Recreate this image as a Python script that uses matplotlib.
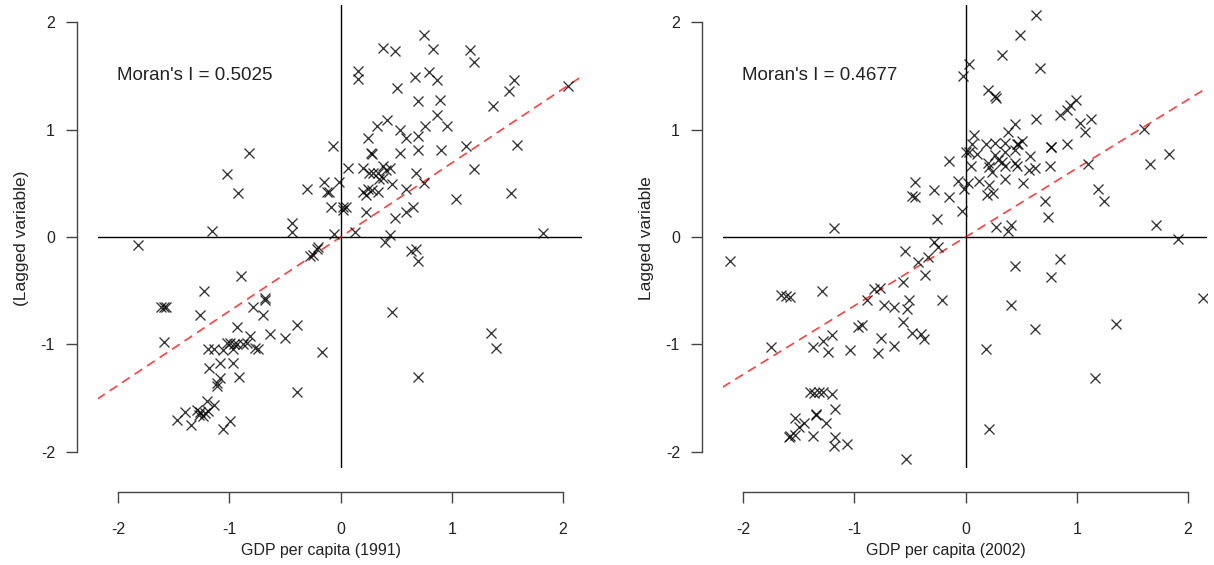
import matplotlib
matplotlib.use("Agg")
import matplotlib.pyplot as plt
import numpy as np

plt.rcParams['font.family'] = ['Liberation Sans', 'DejaVu Sans']
plt.rcParams['axes.unicode_minus'] = False

# GDP per capita 1991 (standardised) and its spatial lag
x91 = [-0.07, -0.82, -1.02, -0.92, -0.30, -0.15, -0.12, -0.10, -0.01, 0.07,
       -0.085, 0.02, 0.05, 0.025, -1.155, -0.44, -0.44, -0.06, 0.75, 0.385,
       0.49, 0.83, 1.16, 1.20, 0.155, 0.155, 0.67, 0.795, 0.87, 1.56,
       1.515, 2.04, 0.51, 0.70, 0.895, 1.37, 0.87, 0.415, 0.325, 0.755,
       0.96, 0.535, 0.585, 0.70, 0.25, 0.27, 0.28, 0.535, 0.70, 0.90,
       1.13, 1.59, 1.20, 0.20, 0.256, 0.295, 0.34, 0.385, 0.405, 0.445,
       0.35, 0.385, 0.68, 0.46, 0.75, 0.205, 0.23, 0.25, 0.28, 0.34,
       0.585, 1.53, 1.035, 0.23, 0.655, 0.585, 0.49, 0.13, 0.44, 1.82,
       0.395, 0.635, 0.68, 0.70, 0.465, 1.35, 1.395, 0.70, -1.82, -0.895,
       -0.245, -0.215, -0.20, -0.274, -1.23, -1.615, -1.585, -1.57, -0.68, -0.675,
       -0.79, -0.70, -1.265, -1.585, -0.93, -0.81, -0.635, -0.50, -0.395, -0.165,
       -1.02, -0.99, -0.96, -0.935, -0.875, -0.845, -1.19, -1.14, -1.06, -0.965,
       -0.77, -0.74, -1.18, -1.08, -0.965, -0.915, -1.08, -1.11, -1.11, -0.395,
       -1.20, -1.14, -1.29, -1.26, -1.27, -1.24, -1.19, -1.22, -1.395, -1.47,
       -1.345, -1.06, -0.99]
lag91 = [0.85, 0.78, 0.59, 0.41, 0.45, 0.51, 0.42, 0.42, 0.51, 0.64,
         0.28, 0.28, 0.28, 0.25, 0.06, 0.13, 0.05, 0.03, 1.88, 1.76,
         1.73, 1.755, 1.74, 1.625, 1.55, 1.475, 1.49, 1.54, 1.46, 1.46,
         1.36, 1.41, 1.39, 1.27, 1.28, 1.216, 1.14, 1.09, 1.03, 1.03,
         1.03, 1.00, 0.92, 0.94, 0.92, 0.78, 0.77, 0.78, 0.81, 0.81,
         0.85, 0.86, 0.63, 0.64, 0.60, 0.60, 0.60, 0.66, 0.62, 0.64,
         0.54, 0.545, 0.60, 0.49, 0.50, 0.42, 0.39, 0.45, 0.44, 0.415,
         0.45, 0.41, 0.35, 0.23, 0.28, 0.23, 0.18, 0.05, 0.02, 0.04,
         -0.05, -0.13, -0.115, -0.22, -0.695, -0.895, -1.03, -1.30, -0.075, -0.36,
         -0.17, -0.115, -0.095, -0.18, -0.50, -0.65, -0.65, -0.655, -0.57, -0.585,
         -0.65, -0.725, -0.725, -0.98, -0.84, -0.92, -0.90, -0.94, -0.82, -1.07,
         -0.99, -0.99, -1.00, -1.00, -1.00, -0.99, -1.04, -1.04, -1.05, -1.04,
         -1.035, -1.04, -1.215, -1.175, -1.175, -1.30, -1.315, -1.36, -1.39, -1.44,
         -1.53, -1.56, -1.61, -1.63, -1.66, -1.67, -1.62, -1.64, -1.625, -1.70,
         -1.75, -1.79, -1.71]

# GDP per capita 2002 (standardised) and its spatial lag
x02 = [-1.18, -0.025, 0.03, -0.15, -0.45, -0.48, -0.45, -0.28, -0.15, -0.065,
       0.005, -0.01, -0.26, -0.035, 0.63, 0.49, 0.325, 0.665, 0.205, 0.27,
       0.265, 0.995, 0.94, 0.91, 0.85, 0.63, 1.03, 1.125, 1.075, 1.60,
       0.44, 0.385, 0.075, 0.055, 0.185, 0.265, 0.355, 0.46, 0.505, 0.475,
       0.765, 0.77, 0.91, 0.03, 0.10, 0.265, 0.295, 0.325, 0.355, 0.44,
       0.575, 0.205, 0.215, 0.235, 0.045, 0.355, 0.44, 0.465, 0.57, 0.625,
       0.76, 1.10, 1.66, 1.83, 0.025, 0.12, 0.355, 0.52, 0.21, 0.19,
       0.245, 1.19, 1.24, 0.71, 0.745, 0.27, 0.41, 0.38, 1.71, 1.91,
       2.13, 0.44, 0.85, 0.77, 0.41, 0.625, 1.35, 0.185, 1.16, 0.215,
       -2.12, -1.66, -1.61, -1.575, -1.29, -1.75, -0.54, -0.28, -0.25, -0.335,
       -0.425, -0.365, -0.56, -0.82, -0.77, -0.89, -0.505, -0.215, -0.73, -0.64,
       -0.53, -0.565, -0.97, -0.93, -0.485, -0.40, -0.37, -1.20, -1.28, -1.37,
       -1.235, -1.04, -0.76, -0.645, -0.785, -1.40, -1.36, -1.32, -1.28, -1.20,
       -1.17, -1.345, -1.34, -1.53, -1.45, -1.50, -1.25, -1.59, -1.575, -1.53,
       -1.37, -1.17, -1.18, -1.07, -0.535]
lag02 = [0.084, 1.50, 1.61, 0.71, 0.515, 0.385, 0.375, 0.44, 0.375, 0.52,
         0.79, 0.45, 0.17, 0.245, 2.07, 1.88, 1.69, 1.57, 1.37, 1.29,
         1.31, 1.275, 1.23, 1.18, 1.135, 1.095, 1.065, 1.10, 0.98, 1.01,
         1.05, 0.98, 0.95, 0.87, 0.87, 0.88, 0.88, 0.87, 0.89, 0.87,
         0.835, 0.84, 0.87, 0.79, 0.77, 0.76, 0.72, 0.70, 0.79, 0.81,
         0.75, 0.685, 0.65, 0.61, 0.66, 0.66, 0.69, 0.66, 0.62, 0.64,
         0.66, 0.68, 0.68, 0.77, 0.505, 0.52, 0.54, 0.505, 0.48, 0.39,
         0.41, 0.45, 0.34, 0.335, 0.19, 0.09, 0.11, 0.06, 0.11, -0.02,
         -0.57, -0.27, -0.20, -0.37, -0.63, -0.86, -0.81, -1.04, -1.31, -1.79,
         -0.22, -0.54, -0.55, -0.56, -0.50, -1.02, -0.13, -0.05, -0.09, -0.19,
         -0.235, -0.35, -0.42, -0.48, -0.47, -0.585, -0.585, -0.59, -0.635, -0.65,
         -0.67, -0.79, -0.84, -0.82, -0.89, -0.90, -0.95, -0.91, -0.97, -1.02,
         -1.07, -1.05, -0.94, -1.01, -1.075, -1.44, -1.45, -1.44, -1.44, -1.46,
         -1.60, -1.655, -1.65, -1.68, -1.73, -1.765, -1.73, -1.86, -1.85, -1.84,
         -1.85, -1.86, -1.945, -1.93, -2.07]

# slopes of the dashed fitted lines, as drawn
slope91 = 0.69
slope02 = 0.64

panels = [
    (x91, lag91, slope91, "Moran's I = 0.5025", "GDP per capita (1991)", "(Lagged variable)"),
    (x02, lag02, slope02, "Moran's I = 0.4677", "GDP per capita (2002)", "Lagged variable"),
]

W, H = 1214, 565
fig = plt.figure(figsize=(W / 100, H / 100), dpi=100)

lefts = [98, 723]
for left, (xs, ys, slope, mtxt, xlab, ylab) in zip(lefts, panels):
    ax = fig.add_axes([left / W, (H - 468) / H, 484 / W, 463 / H])
    ax.set_xlim(-2.18, 2.17)
    ax.set_ylim(-2.15, 2.16)

    ax.axhline(0, color='black', lw=1)
    ax.axvline(0, color='black', lw=1)

    xx = np.array([-2.3, 2.3])
    ax.plot(xx, slope * xx, color='red', ls=(0, (5.5, 3.5)), lw=1.2, alpha=0.75)

    ax.plot(xs, ys, ls='none', marker='x', ms=6.8, mew=0.95,
            color='black', alpha=0.8)

    for s in ['top', 'right']:
        ax.spines[s].set_visible(False)
    ax.spines['left'].set_position(('outward', 15))
    ax.spines['bottom'].set_position(('outward', 17))
    ax.spines['left'].set_bounds(-2, 2)
    ax.spines['bottom'].set_bounds(-2, 2)
    for s in ['left', 'bottom']:
        ax.spines[s].set_color('#444444')
        ax.spines[s].set_linewidth(1)
    ax.set_xticks([-2, -1, 0, 1, 2])
    ax.set_yticks([-2, -1, 0, 1, 2])
    ax.tick_params(axis='both', direction='out', length=8, width=1,
                   color='#444444', labelsize=11.5, labelcolor='#222222')
    ax.tick_params(axis='x', pad=14)
    ax.tick_params(axis='y', pad=8)

    fig.text((left + 19) / W, 1 - 76 / H, mtxt, fontsize=13.5,
             ha='left', va='center', color='#222222')
    fig.text((left + 223) / W, 1 - 551 / H, xlab, fontsize=11.5,
             ha='center', va='center', color='#222222')
    fig.text((left - 76) / W, 1 - 238 / H, ylab, fontsize=12.5, rotation=90,
             ha='center', va='center', color='#222222')

fig.savefig("out.png", dpi=100)
